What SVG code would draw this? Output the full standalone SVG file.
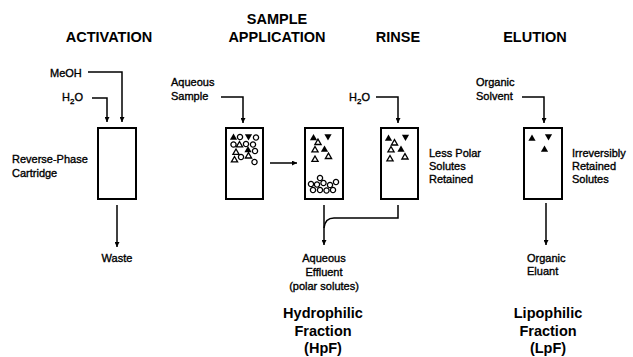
<svg xmlns="http://www.w3.org/2000/svg" xmlns:xlink="http://www.w3.org/1999/xlink" width="633" height="357" viewBox="0 0 633 357">
<style>
.t{font-family:"Liberation Sans",Arial,sans-serif;font-size:11px;fill:#000;stroke:#000;stroke-width:0.35}
.h{font-family:"Liberation Sans",Arial,sans-serif;font-size:14.5px;font-weight:bold;fill:#000}
.m{text-anchor:middle}
.cart{fill:#fff;stroke:#000;stroke-width:2}
.ln{fill:none;stroke:#000;stroke-width:1.5}
</style>
<defs>
<marker id="ah" viewBox="0 0 10 10" refX="10" refY="5" markerWidth="7" markerHeight="5" markerUnits="userSpaceOnUse" orient="auto">
<path d="M0,0 L10,5 L0,10 Z" fill="#000"/>
</marker>
<path id="tu" d="M0,-3.5 L3.6,2.8 L-3.6,2.8 Z" fill="#000"/>
<path id="td" d="M0,3.5 L3.6,-2.8 L-3.6,-2.8 Z" fill="#000"/>
<path id="to" d="M0,-3 L3.1,2.4 L-3.1,2.4 Z" fill="#fff" stroke="#000" stroke-width="1.3"/>
<path id="tr" d="M3,0 L-2.4,3.1 L-2.4,-3.1 Z" fill="#fff" stroke="#000" stroke-width="1.3" transform="rotate(30)"/>
<circle id="c" r="2.6" fill="#fff" stroke="#000" stroke-width="1.3"/>
</defs>

<g id="titles">
<text class="h m" x="109" y="42">ACTIVATION</text>
<text class="h m" x="277" y="24">SAMPLE</text>
<text class="h m" x="277" y="42">APPLICATION</text>
<text class="h m" x="398" y="42">RINSE</text>
<text class="h m" x="535" y="42">ELUTION</text>
</g>

<g id="connectors">
<path class="ln" d="M88,72 H122 V122" marker-end="url(#ah)"/>
<path class="ln" d="M92,98 H107 V122" marker-end="url(#ah)"/>
<path class="ln" d="M117,205 V247" marker-end="url(#ah)"/>
<path class="ln" d="M221,97 H243 V123" marker-end="url(#ah)"/>
<path class="ln" d="M270,163 H297" marker-end="url(#ah)"/>
<path class="ln" d="M324,205 V245" marker-end="url(#ah)"/>
<path class="ln" d="M398,205 V218 H334 Q325,218 324,228"/>
<path class="ln" d="M376,97 H398 V123" marker-end="url(#ah)"/>
<path class="ln" d="M522,97 H544 V123" marker-end="url(#ah)"/>
<path class="ln" d="M546,203 V245" marker-end="url(#ah)"/>
</g>

<g id="activation">
<text class="t" x="50" y="77">MeOH</text>
<text class="t" x="62" y="101">H<tspan font-size="8" dy="3">2</tspan><tspan dy="-3">O</tspan></text>
<rect class="cart" x="98" y="128" width="38" height="71"/>
<text class="t" x="12" y="163">Reverse-Phase</text>
<text class="t" x="12" y="177">Cartridge</text>
<text class="t m" x="117" y="262">Waste</text>
</g>

<g id="sample-application">
<text class="t" x="171" y="86">Aqueous</text>
<text class="t" x="171" y="100">Sample</text>
<rect class="cart" x="226" y="128" width="37" height="71"/>
<use xlink:href="#tu" x="233.5" y="137"/>
<use xlink:href="#c" x="240" y="137"/>
<use xlink:href="#td" x="248.5" y="137"/>
<use xlink:href="#c" x="256" y="137.5"/>
<use xlink:href="#c" x="233.5" y="144.5"/>
<use xlink:href="#to" x="239.5" y="144.5"/>
<use xlink:href="#c" x="246" y="144"/>
<use xlink:href="#c" x="253" y="144.5"/>
<use xlink:href="#to" x="236" y="152"/>
<use xlink:href="#tu" x="248" y="149.5"/>
<use xlink:href="#c" x="255" y="151"/>
<use xlink:href="#to" x="234.5" y="159.5"/>
<use xlink:href="#c" x="241" y="157"/>
<use xlink:href="#tr" x="249" y="156.5"/>
<use xlink:href="#c" x="254.5" y="162"/>
</g>

<g id="after-application">
<rect class="cart" x="305" y="128" width="38" height="71"/>
<use xlink:href="#tu" x="313.5" y="137.5"/>
<use xlink:href="#td" x="328" y="137"/>
<use xlink:href="#tr" x="318.5" y="143"/>
<use xlink:href="#tu" x="324.5" y="149"/>
<use xlink:href="#to" x="315" y="149.5"/>
<use xlink:href="#tr" x="329" y="157"/>
<use xlink:href="#to" x="315" y="159"/>
<use xlink:href="#c" x="320" y="178"/>
<use xlink:href="#c" x="311" y="184"/>
<use xlink:href="#c" x="317" y="184.5"/>
<use xlink:href="#c" x="323.5" y="183"/>
<use xlink:href="#c" x="330" y="185"/>
<use xlink:href="#c" x="336" y="182"/>
<use xlink:href="#c" x="313" y="190"/>
<use xlink:href="#c" x="320" y="190"/>
<use xlink:href="#c" x="326.5" y="190.5"/>
<use xlink:href="#c" x="333" y="190"/>
<text class="t m" x="324" y="262">Aqueous</text>
<text class="t m" x="324" y="276">Effluent</text>
<text class="t m" x="324" y="290">(polar solutes)</text>
<text class="h m" x="323" y="318">Hydrophilic</text>
<text class="h m" x="323" y="336">Fraction</text>
<text class="h m" x="323" y="353">(HpF)</text>
</g>

<g id="rinse">
<text class="t" x="349" y="101">H<tspan font-size="8" dy="3">2</tspan><tspan dy="-3">O</tspan></text>
<rect class="cart" x="381" y="128" width="37" height="71"/>
<use xlink:href="#tu" x="388.5" y="138"/>
<use xlink:href="#td" x="405.5" y="137.5"/>
<use xlink:href="#tr" x="395" y="143.5"/>
<use xlink:href="#tu" x="401" y="149"/>
<use xlink:href="#to" x="391" y="149.5"/>
<use xlink:href="#tr" x="405.5" y="157.5"/>
<use xlink:href="#to" x="390" y="158.5"/>
<text class="t" x="429" y="157">Less Polar</text>
<text class="t" x="429" y="170">Solutes</text>
<text class="t" x="429" y="183">Retained</text>
</g>

<g id="elution">
<text class="t" x="476" y="86">Organic</text>
<text class="t" x="476" y="100">Solvent</text>
<rect class="cart" x="524" y="128" width="38" height="71"/>
<use xlink:href="#tu" x="532" y="138"/>
<use xlink:href="#td" x="548.5" y="137"/>
<use xlink:href="#tu" x="544.5" y="149"/>
<text class="t" x="572" y="157">Irreversibly</text>
<text class="t" x="572" y="170">Retained</text>
<text class="t" x="572" y="183">Solutes</text>
<text class="t" x="527" y="262">Organic</text>
<text class="t" x="527" y="275">Eluant</text>
<text class="h m" x="548" y="318">Lipophilic</text>
<text class="h m" x="548" y="336">Fraction</text>
<text class="h m" x="548" y="353">(LpF)</text>
</g>
</svg>
